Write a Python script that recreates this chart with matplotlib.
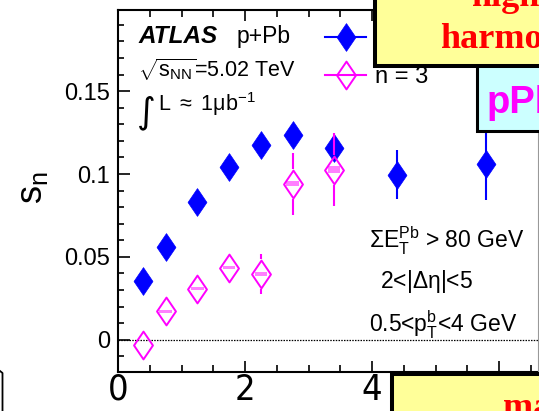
import matplotlib
matplotlib.use("Agg")
import matplotlib.pyplot as plt
import numpy as np
from matplotlib.path import Path
from matplotlib.lines import Line2D
from matplotlib.patches import Rectangle
from matplotlib.ticker import MultipleLocator, FuncFormatter

# ---- data: s_n vs p_T^a, p+Pb 5.02 TeV ----
pt_n2 = [0.4, 0.75, 1.25, 1.75, 2.25, 2.75, 3.4, 4.4, 5.8]
s2 = [0.0356, 0.0562, 0.0829, 0.1041, 0.1174, 0.1238, 0.1158, 0.0997, 0.1061]
s2_err = [0.001, 0.001, 0.001, 0.002, 0.003, 0.004, 0.007, 0.0147, 0.0216]

pt_n3 = [0.4, 0.75, 1.25, 1.75, 2.25, 2.75, 3.4]
s3 = [-0.0030, 0.0171, 0.0308, 0.0435, 0.0397, 0.0940, 0.1027]
s3_err = [0.002, 0.002, 0.003, 0.004, 0.0121, 0.0187, 0.0222]
s3_sys = [0.0, 0.001, 0.001, 0.001, 0.001, 0.0015, 0.002]

legend_labels = ["n = 2", "n = 3"]
xticks = [0, 2, 4, 6]
yticks = [0, 0.05, 0.1, 0.15]

plt.rcParams["font.family"] = ["Liberation Sans", "DejaVu Sans"]
plt.rcParams["mathtext.fontset"] = "custom"
plt.rcParams["mathtext.rm"] = "Liberation Sans"
plt.rcParams["mathtext.it"] = "Liberation Sans"
plt.rcParams["mathtext.bf"] = "Liberation Sans:bold"

W, H = 539, 411
fig = plt.figure(figsize=(W / 100, H / 100), dpi=100)


def fx(px):
    return px / W


def fy(py):
    return 1 - py / H


# axes frame (extends past the right edge of the canvas)
x0, x1 = 0, 7
ax_left, ax_right, ax_top, ax_bot = 118, 118 + 7 * 63.5, 10, 372
ax = fig.add_axes([fx(ax_left), fy(ax_bot), (ax_right - ax_left) / W, (ax_bot - ax_top) / H])
ax.set_xlim(x0, x1)
ax.set_ylim(-0.0195, 0.199)
for sp in ax.spines.values():
    sp.set_linewidth(1.5)

ax.xaxis.set_major_locator(MultipleLocator(2))
ax.xaxis.set_minor_locator(MultipleLocator(0.5))
ax.yaxis.set_major_locator(MultipleLocator(0.05))
ax.yaxis.set_minor_locator(MultipleLocator(0.01))
ax.set_xticks(xticks)
ax.set_yticks(yticks)
ax.yaxis.set_major_formatter(FuncFormatter(lambda v, p: "%g" % round(v, 4)))
ax.tick_params(which="both", direction="in", top=True, right=True, width=1.2)
ax.tick_params(axis="y", which="major", length=8.6, labelsize=17, pad=5.5)
ax.tick_params(axis="y", which="minor", length=4.3)
ax.tick_params(axis="x", which="major", length=8, labelsize=26, pad=0.5)
ax.tick_params(axis="x", which="minor", length=5)
for lab in ax.get_xticklabels():
    lab.set_fontfamily(["DejaVu Sans"])
    lab.set_fontstretch("condensed")

fig.text(fx(33), fy(188), r"s$_{\mathregular{n}}$", rotation=90, fontsize=26,
         ha="center", va="center")

ax.axhline(0, color="black", lw=0.9, ls=(0, (1.2, 1.0)), zorder=1)

diamond = Path([(0, 1), (0.68, 0), (0, -1), (-0.68, 0), (0, 1)],
               [Path.MOVETO, Path.LINETO, Path.LINETO, Path.LINETO, Path.CLOSEPOLY])
ms = 20
blue = "#0000ff"
mag = "#ff00ff"
pink = "#ff80ff"

# n = 2
ax.errorbar(pt_n2, s2, yerr=s2_err, fmt="none", ecolor=blue, elinewidth=1.5, capsize=0, zorder=2)
ax.plot(pt_n2, s2, ls="none", marker=diamond, ms=ms, color=blue, mec=blue, mew=0.5, zorder=3)

# n = 3 : error lines stop at the open marker outline
fig.canvas.draw()
px_per_unit = ax.get_window_extent().height / (ax.get_ylim()[1] - ax.get_ylim()[0])
half = 15.0 / px_per_unit
x3 = np.array(pt_n3)
y3 = np.array(s3)
e3 = np.array(s3_err)
big = e3 > half
ax.vlines(x3[big], y3[big] + half, y3[big] + e3[big], color=mag, lw=1.5, zorder=4)
ax.vlines(x3[big], y3[big] - e3[big], y3[big] - half, color=mag, lw=1.5, zorder=4)
ax.bar(pt_n3, 2 * np.array(s3_sys), bottom=y3 - np.array(s3_sys), width=0.2,
       color=pink, lw=0, zorder=4)
ax.plot(pt_n3, s3, ls="none", marker=diamond, ms=ms, mfc="none", mec=mag, mew=1.4, zorder=5)

# legend
handles = [Line2D([], [], color=blue, lw=1.5, marker=diamond, ms=ms, mec=blue, mew=0.5),
           Line2D([], [], color=mag, lw=1.5, marker=diamond, ms=ms, mfc="none", mec=mag, mew=1.4)]
ax.legend(handles, legend_labels, loc="upper left", bbox_to_anchor=(fx(325), fy(28)),
          bbox_transform=fig.transFigure, frameon=False, fontsize=17, borderpad=0,
          borderaxespad=0, handlelength=1.75, handletextpad=0.38, labelspacing=0.68)

# annotations
fig.text(fx(138), fy(43), "ATLAS", fontsize=17.5, fontweight="bold", fontstyle="italic", va="baseline")
fig.text(fx(237), fy(43), "p+Pb", fontsize=16.5, va="baseline")
fig.text(fx(138), fy(77), r"$\sqrt{s_{\mathregular{NN}}}$=5.02 TeV", fontsize=15.5, va="baseline")
fig.text(fx(137), fy(122), "\u222b", fontsize=26, va="baseline", family=["DejaVu Sans"])
fig.text(fx(158), fy(111), r"L $\approx$ 1$\mu$b$^{-1}$", fontsize=15.5, va="baseline")

fig.text(fx(369), fy(248), r"$\Sigma$E$_{\mathregular{T}}^{\mathregular{Pb}}$ > 80 GeV", fontsize=16.5, va="baseline")
fig.text(fx(380), fy(288), r"2<|$\Delta\eta$|<5", fontsize=16.5, va="baseline")
fig.text(fx(369), fy(332), r"0.5<p$_{\mathregular{T}}^{\mathregular{b}}$<4 GeV", fontsize=16.5, va="baseline")

# slide boxes laid over the plot
fig.add_artist(Rectangle((fx(476.5), fy(131.5)), fx(600) - fx(476.5), fy(60) - fy(131.5),
                         transform=fig.transFigure, facecolor="#ccffff", edgecolor="black",
                         lw=2.2, zorder=10, clip_on=False))
fig.text(fx(487), fy(113), "pPb", fontsize=27.5, fontweight="bold", color=mag, va="baseline", zorder=11)

fig.add_artist(Rectangle((fx(375), fy(66)), fx(600) - fx(375), fy(-30) - fy(66),
                         transform=fig.transFigure, facecolor="#ffff99", edgecolor="black",
                         lw=2.9, zorder=12, clip_on=False))
fig.text(fx(521), fy(6), "higher", fontsize=26, fontweight="bold", color="red",
         family=["Liberation Serif"], ha="center", va="baseline", zorder=13)
fig.text(fx(521), fy(48), "harmonics", fontsize=26, fontweight="bold", color="red",
         family=["Liberation Serif"], ha="center", va="baseline", zorder=13)

fig.add_artist(Rectangle((fx(392), fy(450)), fx(600) - fx(392), fy(374) - fy(450),
                         transform=fig.transFigure, facecolor="#ffff99", edgecolor="black",
                         lw=2.9, zorder=12, clip_on=False))
fig.text(fx(503), fy(417), "mass ordering", fontsize=26, fontweight="bold", color="red",
         family=["Liberation Serif"], va="baseline", zorder=13)

fig.add_artist(Line2D([fx(538), fx(538)], [fy(133), fy(372)], transform=fig.transFigure,
                      color="#999999", lw=0.8, zorder=9))
fig.add_artist(Line2D([fx(0), fx(2.5), fx(2.5)], [fy(371), fy(373), fy(411)],
                      transform=fig.transFigure, color="black", lw=1.3, zorder=9))

fig.savefig("out.png", dpi=100)
